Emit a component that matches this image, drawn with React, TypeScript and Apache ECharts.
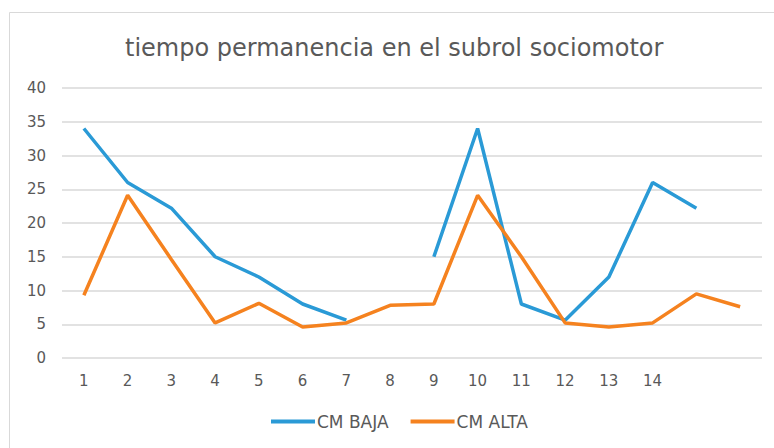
import React, { useEffect, useRef } from "react";
import * as echarts from "echarts";

const title = "tiempo permanencia en el subrol sociomotor";
const categories = ["1", "2", "3", "4", "5", "6", "7", "8", "9", "10", "11", "12", "13", "14", "", ""];
const cmBaja: (number | null)[] = [34, 26, 22.2, 15, 12, 8, 5.6, null, 15, 34, 8, 5.6, 12, 26, 22.2, null];
const cmAlta: (number | null)[] = [9.3, 24.1, 14.6, 5.2, 8.1, 4.6, 5.2, 7.8, 8, 24.1, 15, 5.2, 4.6, 5.2, 9.5, 7.6];
const seriesNames = ["CM BAJA", "CM ALTA"];
const yTicks = { min: 0, max: 40, interval: 5 };

export default function App() {
  const ref = useRef<HTMLDivElement>(null);
  useEffect(() => {
    if (!ref.current) return;
    const chart = echarts.init(ref.current, undefined, { renderer: "svg" });
    const font = "'DejaVu Sans', 'Open Sans', sans-serif";
    chart.setOption({
      animation: false,
      backgroundColor: "#ffffff",
      textStyle: { fontFamily: font },
      title: {
        text: title,
        left: 120,
        top: 31,
        textStyle: { fontFamily: font, fontSize: 24, fontWeight: "normal", color: "#595959" },
      },
      graphic: [
        {
          type: "rect",
          shape: { x: 9.5, y: 12.5, width: 800, height: 500 },
          style: { fill: "none", stroke: "#d9d9d9", lineWidth: 1 },
          silent: true,
        },
      ],
      legend: {
        bottom: 13,
        left: 266,
        data: seriesNames,
        icon: "rect",
        itemWidth: 44,
        itemHeight: 4,
        itemGap: 22,
        textStyle: { fontFamily: font, fontSize: 17, color: "#595959", padding: [0, 0, 0, -3] },
      },
      grid: { left: 62, right: 12, top: 88, bottom: 90 },
      xAxis: {
        type: "category",
        data: categories,
        boundaryGap: true,
        axisLine: { show: false },
        axisTick: { show: false },
        axisLabel: { color: "#595959", fontSize: 15, margin: 15, fontFamily: font },
      },
      yAxis: {
        type: "value",
        min: yTicks.min,
        max: yTicks.max,
        interval: yTicks.interval,
        axisLine: { show: false },
        axisTick: { show: false },
        axisLabel: { color: "#595959", fontSize: 15, margin: 16, fontFamily: font },
        splitLine: { lineStyle: { color: "#d9d9d9", width: 1.5 } },
      },
      series: [
        {
          name: seriesNames[0],
          type: "line",
          data: cmBaja,
          showSymbol: false,
          symbol: "none",
          connectNulls: false,
          lineStyle: { color: "#2a9ad6", width: 3.5 },
          itemStyle: { color: "#2a9ad6" },
        },
        {
          name: seriesNames[1],
          type: "line",
          data: cmAlta,
          showSymbol: false,
          symbol: "none",
          lineStyle: { color: "#f5821f", width: 3.5 },
          itemStyle: { color: "#f5821f" },
        },
      ],
    });
    return () => chart.dispose();
  }, []);
  return (
    <div
      ref={ref}
      style={{ position: "absolute", left: 0, top: 0, width: 774, height: 448 }}
    />
  );
}
